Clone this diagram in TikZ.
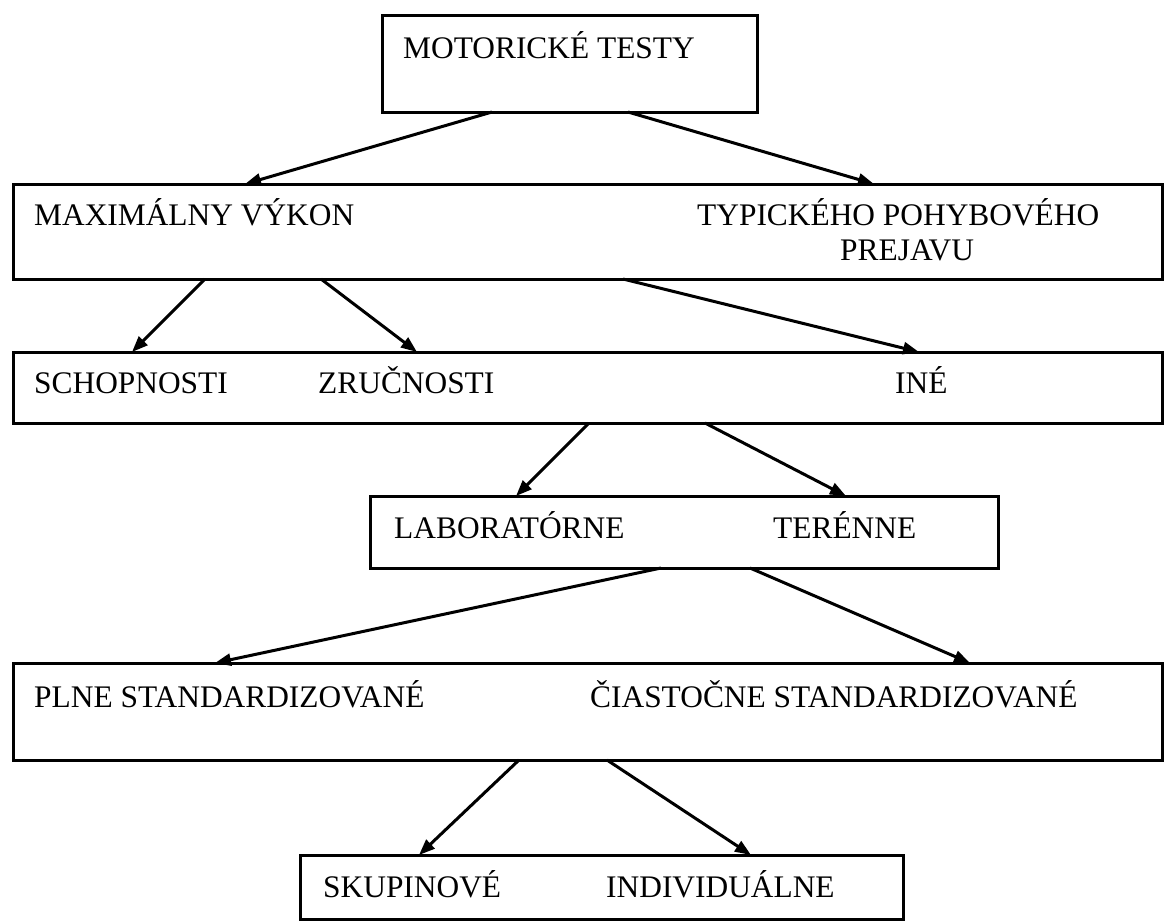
\documentclass[tikz,border=0pt]{standalone}
\usepackage{fontspec}
\setmainfont{Liberation Serif}
\usepackage{tikz}
\usetikzlibrary{arrows.meta, positioning}
\tikzset{
	box/.style={draw, line width=3pt, inner sep=0pt, outer sep=0pt},
	txt/.style={anchor=base west, inner sep=0pt},
	link/.style={draw, line width=3pt, -{Triangle[length=16pt, width=12pt]}}
}

\begin{document}
\begin{tikzpicture}[x=1pt, y=-1pt, font=\fontsize{31.4}{35}\selectfont]
	\useasboundingbox (0,0) rectangle (1165,922);

	% Boxes
	\node[box, minimum width=375pt, minimum height=97pt] (motor) at (569.5,63.5) {};
	\node[box, minimum width=1149pt, minimum height=95pt] (vykon) at (587.5,231.5) {};
	\node[box, minimum width=1149pt, minimum height=71pt] (druh) at (587.5,387.5) {};
	\node[box, minimum width=628pt, minimum height=72pt] (miesto) at (684,532) {};
	\node[box, minimum width=1149pt, minimum height=97pt] (stand) at (587.5,711.5) {};
	\node[box, minimum width=603pt, minimum height=64pt] (org) at (601.5,887) {};

	% Texts
	\node[txt] (tMotor) at (403,58) {MOTORICKÉ TESTY};
	\node[txt] (tMax) at (34,225) {MAXIMÁLNY VÝKON};
	\node[txt] (tTyp) at (697,225) {TYPICKÉHO POHYBOVÉHO};
	\node[txt] (tPrej) at (840,260) {PREJAVU};
	\node[txt] (tSchop) at (34,393) {SCHOPNOSTI};
	\node[txt] (tZruc) at (318,393) {ZRUČNOSTI};
	\node[txt] (tIne) at (895,393) {INÉ};
	\node[txt] (tLab) at (394,538) {LABORATÓRNE};
	\node[txt] (tTer) at (773,538) {TERÉNNE};
	\node[txt] (tPlne) at (34,707) {PLNE STANDARDIZOVANÉ};
	\node[txt] (tCiast) at (590,707) {ČIASTOČNE STANDARDIZOVANÉ};
	\node[txt] (tSkup) at (323,897) {SKUPINOVÉ};
	\node[txt] (tIndiv) at (606,897) {INDIVIDUÁLNE};

	% Connections
	\draw[link] ([xshift=-77.5pt]motor.south) -- ([xshift=-342.5pt]vykon.north);
	\draw[link] ([xshift=58.5pt]motor.south) -- ([xshift=286.5pt]vykon.north);
	\draw[link] ([xshift=-382.5pt]vykon.south) -- ([xshift=-455.5pt]druh.north);
	\draw[link] ([xshift=-266.5pt]vykon.south) -- ([xshift=-170.5pt]druh.north);
	\draw[link] ([xshift=35.5pt]vykon.south) -- ([xshift=331.5pt]druh.north);
	\draw[link] ([xshift=1.5pt]druh.south) -- ([xshift=-168pt]miesto.north);
	\draw[link] ([xshift=117.5pt]druh.south) -- ([xshift=162pt]miesto.north);
	\draw[link] ([xshift=-23pt]miesto.south) -- ([xshift=-372.5pt]stand.north);
	\draw[link] ([xshift=66pt]miesto.south) -- ([xshift=382.5pt]stand.north);
	\draw[link] ([xshift=-68.5pt]stand.south) -- ([xshift=-182.5pt]org.north);
	\draw[link] ([xshift=19.5pt]stand.south) -- ([xshift=149.5pt]org.north);
\end{tikzpicture}
\end{document}
